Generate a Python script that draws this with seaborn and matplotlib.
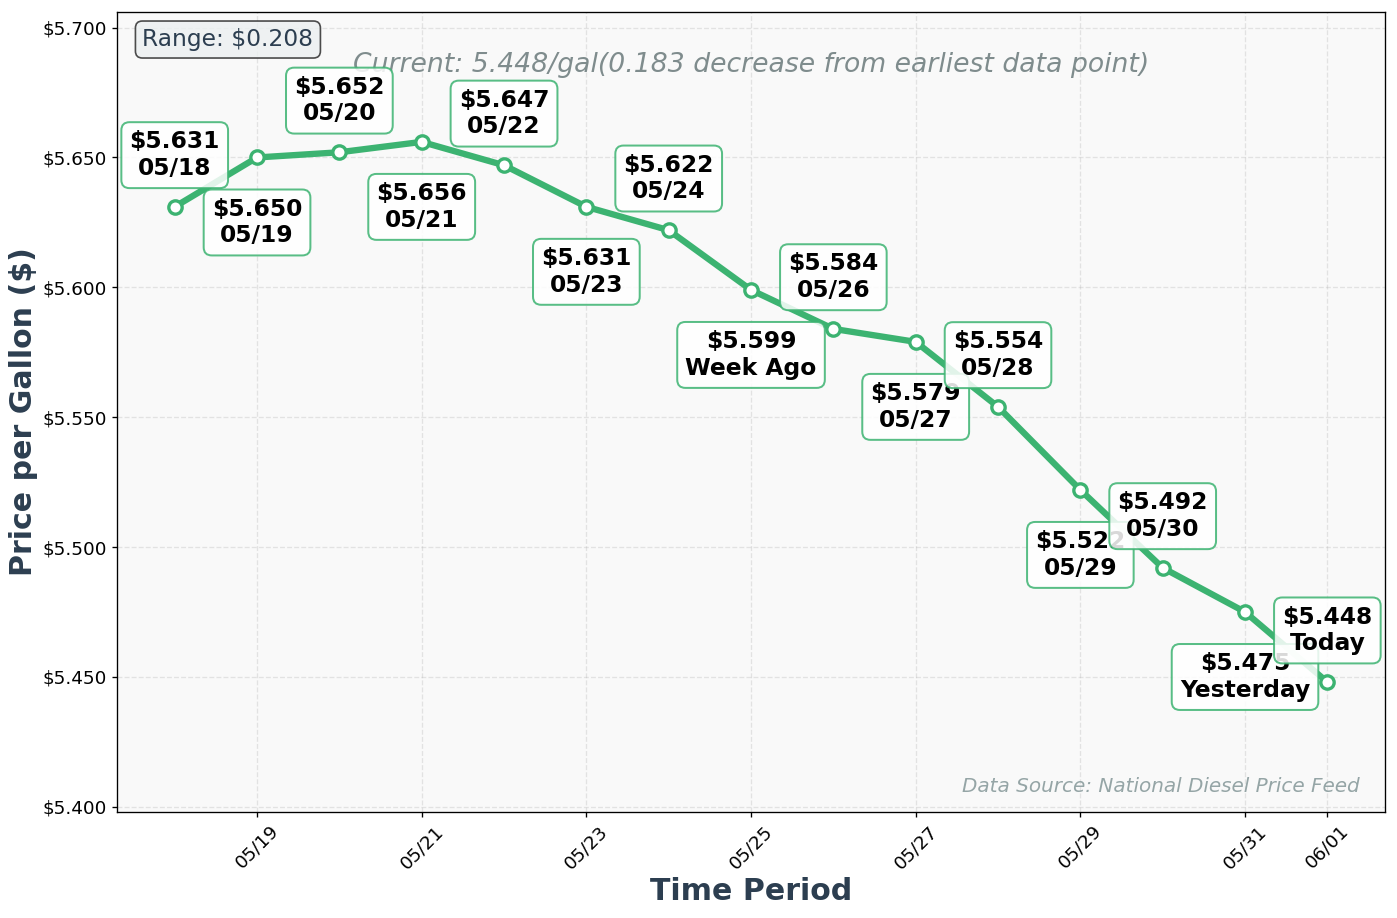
import matplotlib
matplotlib.use("Agg")
import matplotlib.pyplot as plt
import matplotlib.dates as mdates
import matplotlib.ticker as mticker
import seaborn as sns
import pandas as pd

# data
dates = ["2024-05-18", "2024-05-19", "2024-05-20", "2024-05-21", "2024-05-22",
         "2024-05-23", "2024-05-24", "2024-05-25", "2024-05-26", "2024-05-27",
         "2024-05-28", "2024-05-29", "2024-05-30", "2024-05-31", "2024-06-01"]
prices = [5.631, 5.650, 5.652, 5.656, 5.647, 5.631, 5.622, 5.599,
          5.584, 5.579, 5.554, 5.522, 5.492, 5.475, 5.448]
point_names = ["05/18", "05/19", "05/20", "05/21", "05/22", "05/23", "05/24", "Week Ago",
               "05/26", "05/27", "05/28", "05/29", "05/30", "Yesterday", "Today"]

df = pd.DataFrame({"date": pd.to_datetime(dates), "price": prices})

green = "#3cb371"
dark = "#2c3e50"

fig, ax = plt.subplots(figsize=(1397 / 120, 918 / 120), dpi=120)
fig.subplots_adjust(left=0.0838, right=0.9914, top=0.9869, bottom=0.1155)
ax.set_facecolor("#f9f9f9")

sns.lineplot(data=df, x="date", y="price", ax=ax, color=green, linewidth=3.8,
             marker="o", markersize=8, markerfacecolor="white",
             markeredgecolor=green, markeredgewidth=2, zorder=3)

# price labels, alternating above and below
for i, (d, p, name) in enumerate(zip(df["date"], prices, point_names)):
    dy = 31 if i % 2 == 0 else -39
    ax.annotate(f"${p:.3f}\n{name}", xy=(d, p), xytext=(0, dy),
                textcoords="offset points", ha="center", va="center",
                fontsize=14, fontweight="bold", color="black", zorder=4,
                bbox=dict(boxstyle="round,pad=0.35", facecolor="white",
                          edgecolor=green, linewidth=1.2, alpha=0.85))

ax.set_ylim(min(prices) - 0.05, max(prices) + 0.05)
ax.yaxis.set_major_formatter(mticker.FuncFormatter(lambda v, _: f"${v:.3f}"))
ax.xaxis.set_major_locator(mdates.DayLocator(bymonthday=range(1, 32, 2)))
ax.xaxis.set_major_formatter(mdates.DateFormatter("%m/%d"))
ax.tick_params(axis="both", labelsize=11, length=3, pad=3)
plt.setp(ax.get_xticklabels(), rotation=45)

ax.grid(True, linestyle="--", alpha=0.3)
ax.set_xlabel("Time Period", fontsize=18, fontweight="bold", color=dark, labelpad=3)
ax.set_ylabel("Price per Gallon ($)", fontsize=18, fontweight="bold", color=dark, labelpad=3)

change = prices[0] - prices[-1]
ax.text(0.5, 0.95, f"Current: {prices[-1]:.3f}/gal({change:.3f} decrease from earliest data point)",
        transform=ax.transAxes, ha="center", va="top", fontsize=16,
        style="italic", color="#7f8c8d")

ax.text(0.02, 0.98, f"Range: ${max(prices) - min(prices):.3f}", transform=ax.transAxes,
        ha="left", va="top", fontsize=14, color=dark,
        bbox=dict(boxstyle="round,pad=0.3", facecolor="#ecf0f1", edgecolor="#222222", alpha=0.8))

ax.text(0.98, 0.02, "Data Source: National Diesel Price Feed", transform=ax.transAxes,
        ha="right", va="bottom", fontsize=12, style="italic", color="#95a5a6")

fig.savefig("out.png", dpi=120)
